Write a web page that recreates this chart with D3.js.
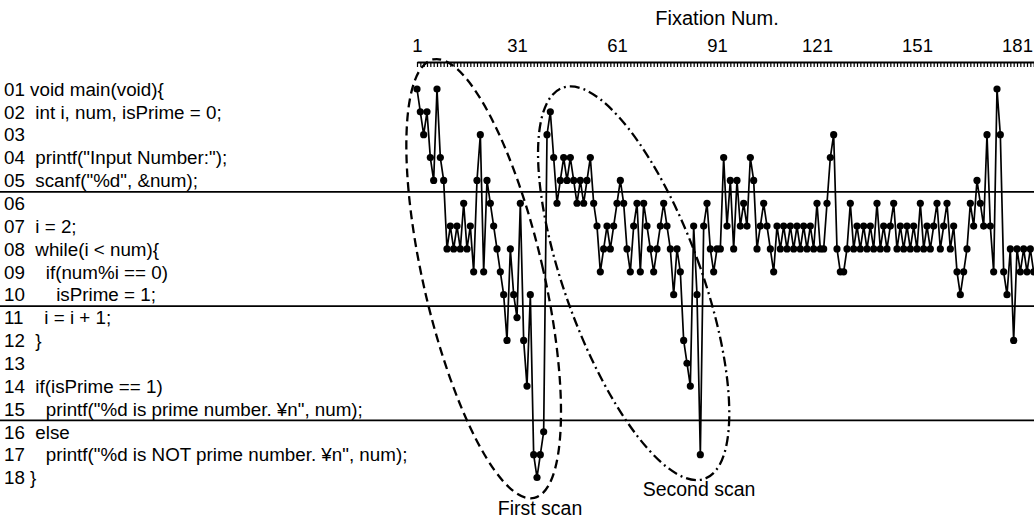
<!DOCTYPE html>
<html>
<head>
<meta charset="utf-8">
<script src="https://cdn.jsdelivr.net/npm/d3@7"></script>
<style>
body { margin: 0; background: #fff; }
svg text { font-family: "Liberation Sans", Arial, sans-serif; fill: #000; }
</style>
</head>
<body>
<svg id="chart" width="1034" height="519"></svg>
<script>
// source lines shown on the left (row 1..18)
var codeLines = [
  "01 void main(void){",
  "02  int i, num, isPrime = 0;",
  "03",
  "04  printf(\"Input Number:\");",
  "05  scanf(\"%d\", &num);",
  "06",
  "07  i = 2;",
  "08  while(i < num){",
  "09    if(num%i == 0)",
  "10      isPrime = 1;",
  "11    i = i + 1;",
  "12  }",
  "13",
  "14  if(isPrime == 1)",
  "15    printf(\"%d is prime number. \u00a5n\", num);",
  "16  else",
  "17    printf(\"%d is NOT prime number. \u00a5n\", num);",
  "18 }"
];

// code line looked at, fixation 1..186
var fixLines = [
  1,2,3,2,4,5,1,4,5,8,
  7,8,7,8,6,8,7,9,5,3,
  9,5,6,7,8,9,10,12,8,10,
  11,6,12,14,10,17,18,17,16,3,
  2,4,6,5,4,5,4,5,6,5,
  6,5,4,6,7,9,8,7,8,7,
  6,5,6,8,9,7,6,9,6,7,
  8,9,8,7,6,7,8,10,8,9,
  12,13,14,7,10,17,7,6,8,9,
  8,8,4,7,5,8,5,7,6,7,
  4,5,8,7,6,7,8,9,7,8,
  7,8,7,8,7,8,7,8,7,8,
  6,8,8,6,4,3,8,9,9,8,
  6,8,7,8,7,8,7,8,6,8,
  7,8,7,6,8,7,8,7,8,7,
  8,6,8,7,8,7,6,8,7,6,
  8,7,9,10,9,8,6,7,5,6,
  7,3,7,9,1,3,9,10,8,12,
  8,9,8,9,8,9
];

var xTickLabels = [1, 31, 61, 91, 121, 151, 181];
var blockEnds = [5, 10, 15];   // separator drawn below these rows
var scanNames = ["First scan", "Second scan"];
var scanCenterFix = [21, 66];
var scanCenterRow = [9.3, 9.5];

var svg = d3.select("#chart");
var W = 1034;

var x = d3.scaleLinear().domain([1, 181]).range([417, 1017]);
var y = d3.scaleLinear().domain([1, 18]).range([89, 477.5]);

// header
svg.append("text")
    .attr("x", 717).attr("y", 25)
    .attr("text-anchor", "middle")
    .style("font-size", "20px")
    .text("Fixation Num.");

// ruler with one tick per fixation
var ruler = x.copy().domain([1, x.invert(W)]).range([417, W]);
svg.append("g")
    .attr("transform", "translate(0,62)")
    .call(d3.axisBottom(ruler)
        .tickValues(d3.range(1, Math.floor(x.invert(W)) + 1))
        .tickSizeInner(5).tickSizeOuter(0)
        .tickFormat(""))
    .call(function(g) {
        g.select(".domain").attr("stroke-width", 2);
        g.selectAll(".tick line").attr("stroke-width", 1.2);
    });

var labAxis = svg.append("g")
    .attr("transform", "translate(0,62)")
    .call(d3.axisTop(x).tickValues(xTickLabels).tickSize(0).tickPadding(10));
labAxis.select(".domain").remove();
labAxis.selectAll("text")
    .style("font-size", "18.5px")
    .style("font-family", "'Liberation Sans', Arial, sans-serif");

// code rows
svg.append("g").selectAll("text")
    .data(codeLines)
    .enter().append("text")
    .attr("x", 4)
    .attr("y", function(d, i) { return y(i + 1); })
    .attr("dy", "0.36em")
    .attr("xml:space", "preserve")
    .style("white-space", "pre")
    .style("font-size", "18.8px")
    .text(function(d) { return d; });

// block separators
svg.append("g").selectAll("line")
    .data(blockEnds)
    .enter().append("line")
    .attr("x1", 0).attr("x2", W)
    .attr("y1", function(d) { return y(d + 0.5); })
    .attr("y2", function(d) { return y(d + 0.5); })
    .attr("stroke", "#000")
    .attr("stroke-width", 1.8);

// scan path
svg.append("path")
    .datum(fixLines)
    .attr("fill", "none")
    .attr("stroke", "#000")
    .attr("stroke-width", 1.7)
    .attr("d", d3.line()
        .x(function(d, i) { return x(i + 1); })
        .y(function(d) { return y(d); }));

svg.append("g").selectAll("circle")
    .data(fixLines)
    .enter().append("circle")
    .attr("cx", function(d, i) { return x(i + 1); })
    .attr("cy", function(d) { return y(d); })
    .attr("r", 3.6)
    .attr("fill", "#000");

// scan ellipses
var ellipseStyle = [
    { rx: 60, ry: 225, rot: -13, dash: "9,5" },
    { rx: 68, ry: 208, rot: -20, dash: "10,4,2,4" }
];
scanNames.forEach(function(name, i) {
    var cx = x(scanCenterFix[i]), cy = y(scanCenterRow[i]), e = ellipseStyle[i];
    svg.append("ellipse")
        .attr("cx", 0).attr("cy", 0)
        .attr("rx", e.rx).attr("ry", e.ry)
        .attr("transform", "translate(" + cx + "," + cy + ") rotate(" + e.rot + ")")
        .attr("fill", "none")
        .attr("stroke", "#000")
        .attr("stroke-width", 2.3)
        .attr("stroke-dasharray", e.dash);
});

svg.append("text").attr("x", 540).attr("y", 515)
    .attr("text-anchor", "middle").style("font-size", "19.5px")
    .text(scanNames[0]);
svg.append("text").attr("x", 699).attr("y", 496)
    .attr("text-anchor", "middle").style("font-size", "19.5px")
    .text(scanNames[1]);
</script>
</body>
</html>
